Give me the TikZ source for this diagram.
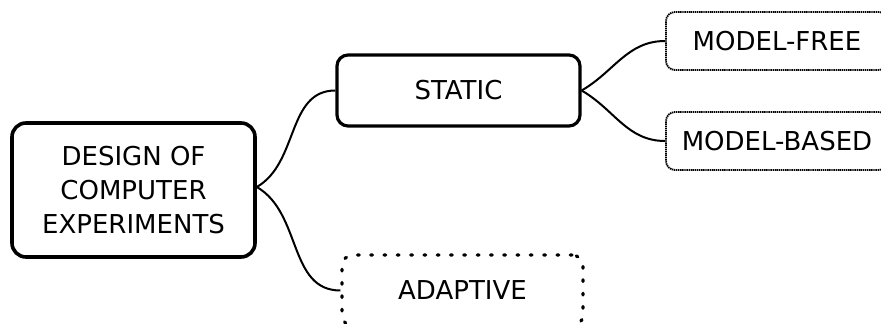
\documentclass[tikz,border=0pt]{standalone}
\usepackage{fontspec}
\setmainfont{DejaVu Sans}
\begin{document}
\begin{tikzpicture}[x=1pt,y=-1pt,
  every node/.style={font=\fontsize{26}{34}\selectfont, align=center, inner sep=0pt, rounded corners},
  rootbox/.style={draw, line width=3.6pt, rounded corners=14pt, minimum width=243pt, minimum height=134pt},
  mainbox/.style={draw, line width=3.2pt, rounded corners=11pt, minimum width=243pt, minimum height=71pt},
  subbox/.style={draw, line width=1.8pt, dash pattern=on 1.4pt off 0.7pt, rounded corners=9pt, minimum width=222pt, minimum height=58pt},
  openbox/.style={draw, line width=3.2pt, dash pattern=on 1.8pt off 11.5pt, line cap=round, rounded corners=11pt, minimum width=241pt, minimum height=71pt},
  link/.style={line width=2pt}]
\useasboundingbox (0,0) rectangle (881,324);
\clip (0,0) rectangle (881,324);

% boxes
\node[rootbox] (root) at (133.5,190) {DESIGN OF\\COMPUTER\\EXPERIMENTS};
\node[mainbox] (static) at (458.5,90.5) {STATIC};
\node[openbox] (adaptive) at (462.5,290.5) {ADAPTIVE};
\node[subbox] (free) at (777,41) {MODEL-FREE};
\node[subbox] (based) at (777,141) {MODEL-BASED};

% branches
\draw[link] ([yshift=3pt]root.east) to[out=30,in=180] (static.west);
\draw[link] ([yshift=3pt]root.east) to[out=-30,in=180] (adaptive.west);
\draw[link] (static.east) to[out=30,in=180] (free.west);
\draw[link] (static.east) to[out=-30,in=180] (based.west);
\end{tikzpicture}
\end{document}
